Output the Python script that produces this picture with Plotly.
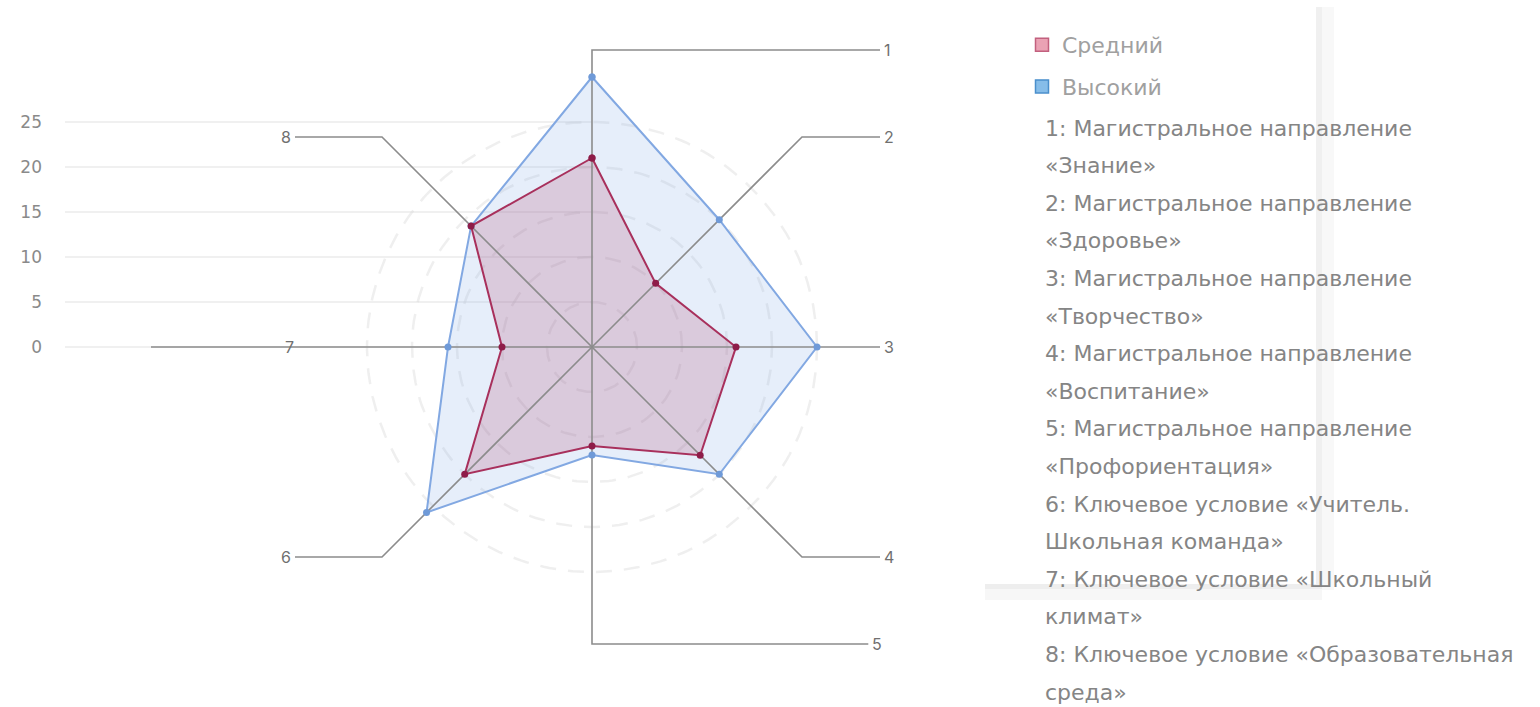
import numpy as np
import plotly.graph_objects as go

# ---------------- data ----------------
axis_ids = ["1", "2", "3", "4", "5", "6", "7", "8"]
descriptions = [
    "1: Магистральное направление\n«Знание»",
    "2: Магистральное направление\n«Здоровье»",
    "3: Магистральное направление\n«Творчество»",
    "4: Магистральное направление\n«Воспитание»",
    "5: Магистральное направление\n«Профориентация»",
    "6: Ключевое условие «Учитель.\nШкольная команда»",
    "7: Ключевое условие «Школьный\nклимат»",
    "8: Ключевое условие «Образовательная\nсреда»",
]
series_names = ["Средний", "Высокий"]
mid_values = [21, 10, 16, 17, 11, 20, 10, 19]
high_values = [30, 20, 25, 20, 12, 26, 16, 19]
y_ticks = [0, 5, 10, 15, 20, 25]
ring_levels = [5, 10, 15, 20, 25]

# ---------------- geometry / style ----------------
W, H = 1540, 707
PX = 9.0                      # pixels per value unit
CX, CY = 592, 347             # centre of radar in px
PL, PR, PT, PB = 65, 910, 20, 690
x_range = [(PL - CX) / PX, (PR - CX) / PX]
y_range = [(CY - PB) / PX, (CY - PT) / PX]

FONT = "Inter, Roboto, 'Open Sans', sans-serif"
WIDE = "'DejaVu Sans', Verdana, sans-serif"
TXT = "#858585"
RED_LINE, RED_MK, RED_FILL = "#a8305c", "#8e1c48", "rgba(168,48,92,0.19)"
BLUE_LINE, BLUE_MK, BLUE_FILL = "#82a8e2", "#6f9ad8", "rgba(130,170,230,0.20)"
SPOKE = "#8c8c8c"

n = len(axis_ids)
theta = np.deg2rad(90 - 360.0 / n * np.arange(n))


def to_xy(r, th):
    r = np.asarray(r, dtype=float)
    return r * np.cos(th), r * np.sin(th)


fig = go.Figure()

# horizontal value grid lines (left part only)
gx, gy = [], []
for v in y_ticks:
    gx += [x_range[0], 0, None]
    gy += [v, v, None]
fig.add_trace(go.Scatter(x=gx, y=gy, mode="lines", line=dict(color="#ebebeb", width=1.5),
                         hoverinfo="skip", showlegend=False))

# dashed rings
phi = np.linspace(0, 2 * np.pi, 240)
for lv in ring_levels:
    rx, ry = to_xy(np.full_like(phi, lv), phi)
    fig.add_trace(go.Scatter(x=rx, y=ry, mode="lines",
                             line=dict(color="rgba(215,215,215,0.40)", width=2.5, dash="16px,12px"),
                             hoverinfo="skip", showlegend=False))

# filled polygons
for vals, fillc in ((high_values, BLUE_FILL), (mid_values, RED_FILL)):
    px_, py_ = to_xy(vals, theta)
    fig.add_trace(go.Scatter(x=np.append(px_, px_[0]), y=np.append(py_, py_[0]), mode="lines",
                             fill="toself", fillcolor=fillc, line=dict(width=0),
                             hoverinfo="skip", showlegend=False))

# spokes with leader lines
R_ELB = 33.0
X_RIGHT, X_LEFT = 32.0, -33.0
lx, ly = [], []
labels = []
for i, th in enumerate(theta):
    ex, ey = float(np.cos(th)) * R_ELB, float(np.sin(th)) * R_ELB
    c = np.cos(th)
    if abs(ey) < 1e-6:      # horizontal spokes
        if c > 0:
            lx += [0, X_RIGHT, None]; ly += [0, 0, None]
            labels.append((X_RIGHT + 0.2, 0, "left"))
        else:
            lx += [0, -49.0, None]; ly += [0, 0, None]
            labels.append((-33.6, 0, "center"))
    else:
        if abs(c) < 1e-6:
            endx = X_RIGHT if ey > 0 else X_RIGHT - 1.3
        else:
            endx = X_RIGHT if c > 0 else X_LEFT
        lx += [0, ex, endx, None]; ly += [0, ey, ey, None]
        if endx > 0:
            labels.append((endx + 0.2, ey, "left"))
        else:
            labels.append((endx - 0.2, ey, "right"))
fig.add_trace(go.Scatter(x=lx, y=ly, mode="lines", line=dict(color=SPOKE, width=1.6),
                         hoverinfo="skip", showlegend=False))

# outlines + markers
for name, vals, lc, mc in ((series_names[1], high_values, BLUE_LINE, BLUE_MK),
                           (series_names[0], mid_values, RED_LINE, RED_MK)):
    px_, py_ = to_xy(vals, theta)
    fig.add_trace(go.Scatter(x=np.append(px_, px_[0]), y=np.append(py_, py_[0]),
                             mode="lines+markers", name=name,
                             line=dict(color=lc, width=2), marker=dict(color=mc, size=7),
                             showlegend=False))

# axis labels
for (x, y, anc), t in zip(labels, axis_ids):
    fig.add_annotation(x=x, y=y, text=t, showarrow=False, xanchor=anc, yanchor="middle",
                       font=dict(family=FONT, size=16, color="#707070"))

# legend entries
for name, fc, bc in ((series_names[0], "#eaa2b4", "#c2607e"),
                     (series_names[1], "#86bde9", "#4a8fcc")):
    fig.add_trace(go.Scatter(x=[None], y=[None], mode="markers", name=name, legendgroup=name,
                             marker=dict(symbol="square", size=13, color=fc,
                                         line=dict(color=bc, width=1.5))))


def paper_x(px):
    return (px - PL) / (PR - PL)


def paper_y(py):
    return (PB - py) / (PB - PT)


# description lines
line_y0, line_step = 128, 37.6
k = 0
for d in descriptions:
    for part in d.split("\n"):
        py = line_y0 + k * line_step
        fig.add_annotation(xref="paper", yref="paper", x=paper_x(1043), y=paper_y(py),
                           text=part, showarrow=False, xanchor="left", yanchor="middle",
                           font=dict(family=WIDE, size=22, color=TXT))
        k += 1

# faint screenshot shadow bands seen in the reference
shapes = [
    dict(type="rect", xref="paper", yref="paper", layer="below",
         x0=paper_x(1316), x1=paper_x(1322), y0=paper_y(590), y1=paper_y(7),
         fillcolor="#f0f0f0", line=dict(width=0)),
    dict(type="rect", xref="paper", yref="paper", layer="below",
         x0=paper_x(1322), x1=paper_x(1334), y0=paper_y(590), y1=paper_y(7),
         fillcolor="#f8f8f8", line=dict(width=0)),
    dict(type="rect", xref="paper", yref="paper", layer="below",
         x0=paper_x(985), x1=paper_x(1322), y0=paper_y(589), y1=paper_y(584),
         fillcolor="#eeeeee", line=dict(width=0)),
    dict(type="rect", xref="paper", yref="paper", layer="below",
         x0=paper_x(985), x1=paper_x(1322), y0=paper_y(600), y1=paper_y(589),
         fillcolor="#f7f7f7", line=dict(width=0)),
]

fig.update_layout(
    width=W, height=H, autosize=False,
    margin=dict(l=PL, r=W - PR, t=PT, b=H - PB),
    paper_bgcolor="white", plot_bgcolor="white",
    font=dict(family=FONT, color=TXT),
    shapes=shapes,
    xaxis=dict(range=x_range, visible=False, fixedrange=True),
    yaxis=dict(range=y_range, tickvals=y_ticks, showgrid=False, zeroline=False, showline=False,
               ticklabelstandoff=22, tickfont=dict(family=WIDE, size=17, color="#8a8a8a"),
               fixedrange=True),
    legend=dict(xref="container", yref="container", x=1022 / W, y=1 - 24 / H,
                xanchor="left", yanchor="top", traceorder="grouped", tracegroupgap=10,
                font=dict(family=WIDE, size=22, color="#a0a0a0"), bgcolor="rgba(0,0,0,0)"),
    showlegend=True,
)

fig.write_html("out.html", config={"displayModeBar": False},
               post_script="document.body.style.margin='0';")
